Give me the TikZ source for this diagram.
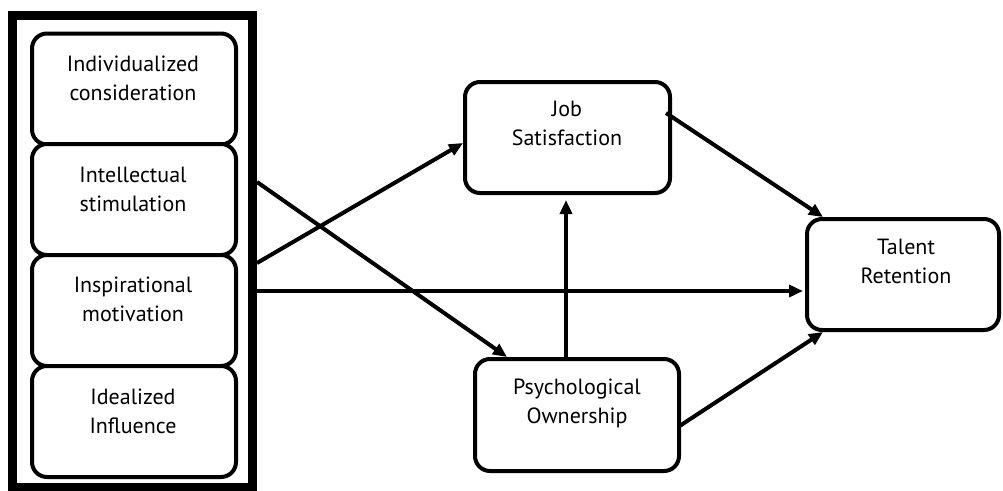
\documentclass[tikz,border=0pt]{standalone}
\usepackage{fontspec}
\setmainfont{PT Sans}
\usetikzlibrary{arrows.meta}
\begin{document}
\begin{tikzpicture}[x=1pt,y=-1pt,
  rbox/.style={draw=black,line width=4pt,rounded corners=15pt,minimum width=#1,minimum height=111pt,inner sep=0pt,fill=white},
  rbox/.default=204pt,
  txt/.style={align=center,font=\fontsize{22}{29}\selectfont,inner sep=0pt},
  conn/.style={line width=4pt,-{Triangle[length=14pt,width=12pt]}},
  plain/.style={line width=4pt}]
\useasboundingbox (0,0) rectangle (1003,490);
\fill[white] (0,0) rectangle (1003,490);
% outer frame
\node[draw=black,line width=9pt,minimum width=240pt,minimum height=472pt,inner sep=0pt] (outer) at (132.5,251) {};
% left boxes
\node[rbox] (b1) at (134,89) {};
\node[rbox] (b2) at (134,199.5) {};
\node[rbox] (b3) at (134,310.5) {};
\node[rbox] (b4) at (134,421.5) {};
\node[txt] (t1) at (133,78) {Individualized\\consideration};
\node[txt] (t2) at (133,189) {Intellectual\\stimulation};
\node[txt] (t3) at (133,299) {Inspirational\\motivation};
\node[txt] (t4) at (133,411) {Idealized\\Influence};
% right boxes
\node[rbox=205pt] (js) at (567.5,137.5) {};
\node[txt] (jst) at (567,123) {Job\\Satisfaction};
\node[rbox=192pt] (tr) at (903,274.5) {};
\node[txt] (trt) at (906,261) {Talent\\Retention};
\node[rbox=204pt,minimum height=112pt] (po) at (577,415) {};
\node[txt] (pot) at (577,403) {Psychological\\Ownership};
% helper coordinates
\coordinate (y182) at (0,182);
\coordinate (y263) at (0,263);
\coordinate (y291) at (0,291);
\coordinate (y143) at (0,143);
\coordinate (y113) at (0,113);
\coordinate (y427) at (0,427);
\coordinate (x507) at (507,0);
\coordinate (x566) at (566,0);
\coordinate (x823) at (823,0);
% connectors
\draw[conn] (outer.east |- y182) -- (po.north -| x507);
\draw[conn] (outer.east |- y263) -- (js.west |- y143);
\draw[conn] (outer.east |- y291) -- ([xshift=-2pt]tr.west |- y291);
\draw[conn] ([yshift=-3pt]po.north -| x566) -- ([yshift=-5pt]js.south -| x566);
\draw[conn] ([xshift=-6pt]js.east |- y113) -- (tr.north -| x823);
\draw[conn] ([xshift=-3pt]po.east |- y427) -- (tr.south -| x823);
\end{tikzpicture}
\end{document}
